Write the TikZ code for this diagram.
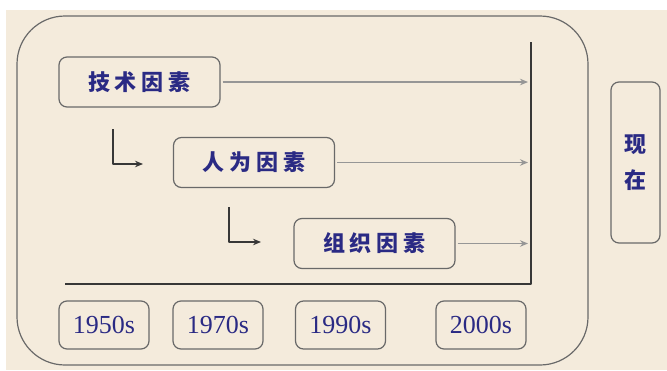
\documentclass[tikz,border=0pt]{standalone}
\usepackage{fontspec}
\setmainfont{Liberation Serif}
\newfontfamily\cjk{Noto Sans CJK SC}
\usetikzlibrary{positioning,arrows.meta}
\definecolor{paper}{RGB}{244,235,220}
\definecolor{ink}{RGB}{42,42,132}
\definecolor{rim}{RGB}{105,105,105}
\definecolor{axisgray}{RGB}{55,55,55}
\definecolor{flow}{RGB}{150,150,150}
\tikzset{
  factor/.style={draw=rim, line width=1.2pt, rounded corners=8pt, minimum width=161pt, minimum height=50pt, text=ink, font=\cjk\bfseries\fontsize{22}{22}\selectfont},
  decade/.style={draw=rim, line width=1.2pt, rounded corners=8pt, minimum width=90pt, minimum height=48pt, text=ink, font=\fontsize{26}{26}\selectfont},
  timeflow/.style={draw=flow, line width=1.4pt, ->, shorten <=2pt, shorten >=3pt},
  turn/.style={draw=axisgray, line width=1.3pt, ->},
}
\begin{document}
\begin{tikzpicture}[x=1pt, y=-1pt, line join=round, >={Stealth[length=8pt,width=6.5pt]}]
\useasboundingbox (0,0) rectangle (667,370);
\fill[paper] (6,10) rectangle (667,370);
\draw[rim, line width=1.2pt, rounded corners=48pt] (17,16) rectangle (588,365);
% factors
\node[factor] (tech) at (139.5,82) {技\hspace{5pt}术\hspace{5pt}因\hspace{5pt}素};
\node[factor] (human) at (254,162.5) {人\hspace{5pt}为\hspace{5pt}因\hspace{5pt}素};
\node[factor] (org) at (374.5,243.5) {组\hspace{5pt}织\hspace{5pt}因\hspace{5pt}素};
% time axis
\coordinate (top) at (531,42);
\coordinate (corner) at (531,284);
\coordinate (start) at (65,284);
\draw[axisgray, line width=1.8pt] (top) -- (corner) -- (start);
\draw[timeflow] (tech) -- (tech -| top);
\draw[timeflow] (human) -- (human -| top);
\draw[timeflow] (org) -- (org -| top);
% turns
\coordinate (e1) at (113,129); \coordinate (f1) at (143,164);
\coordinate (e2) at (229,207); \coordinate (f2) at (261,242);
\draw[turn] (e1) |- (f1);
\draw[turn] (e2) |- (f2);
% decades
\node[decade] (d50) at (104,325) {1950s};
\node[decade] (d70) at (218,325) {1970s};
\node[decade] (d90) at (340.5,325) {1990s};
\node[decade] (d00) at (481,325) {2000s};
% now
\node[draw=rim, line width=1.2pt, rounded corners=8pt, minimum width=49pt, minimum height=161pt, text=ink, align=center, font=\cjk\bfseries\fontsize{22}{36}\selectfont] (now) at (635.5,162.5) {现\\在};
\end{tikzpicture}
\end{document}
